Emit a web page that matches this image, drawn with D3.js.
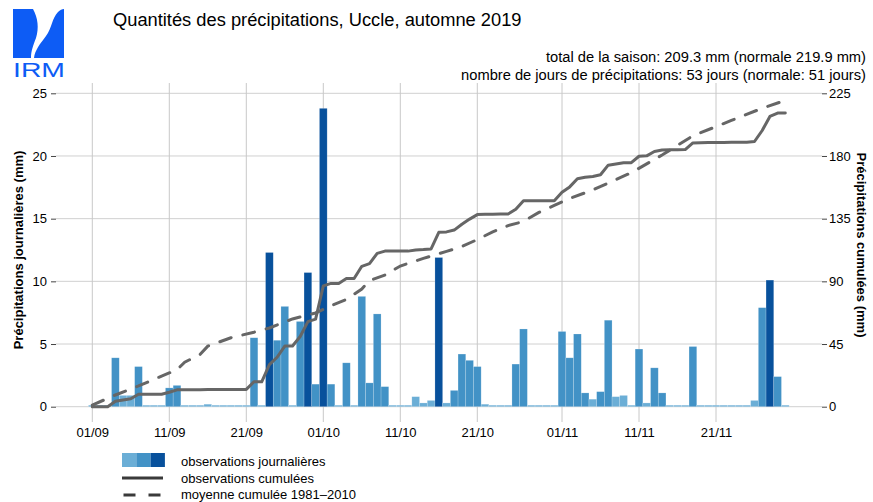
<!DOCTYPE html>
<html>
<head>
<meta charset="utf-8">
<script src="https://cdn.jsdelivr.net/npm/d3@7"></script>
<style>
  body { margin: 0; background: #fff; }
  text { font-family: "Liberation Sans", Arial, sans-serif; fill: #000; }
</style>
</head>
<body>
<div id="chart"></div>
<script>
// daily rain, Uccle, 1 Sep -> 30 Nov 2019 (mm)
var dailyRain = [
  0, 0, 0, 3.9, 0.9, 0.9, 3.2, 0, 0, 0,            // 01/09 - 10/09
  1.5, 1.7, 0.1, 0, 0, 0.2, 0, 0, 0, 0,            // 11/09 - 20/09
  0, 5.5, 0, 12.3, 5.3, 8.0, 0.1, 6.8, 10.7, 1.8,  // 21/09 - 30/09
  23.8, 1.8, 0, 3.5, 0, 8.8, 1.9, 7.4, 1.6, 0,     // 01/10 - 10/10
  0, 0, 0.8, 0.3, 0.5, 11.9, 0.3, 1.3, 4.2, 3.7,   // 11/10 - 20/10
  3.2, 0.2, 0.1, 0.1, 0, 3.4, 6.2, 0, 0, 0, 0,     // 21/10 - 31/10
  6.0, 3.9, 5.8, 1.1, 0.6, 1.2, 6.9, 0.8, 0.9, 0.1, // 01/11 - 10/11
  4.6, 0.3, 3.1, 1.1, 0.1, 0.1, 0.1, 4.8, 0.1, 0.1, // 11/11 - 20/11
  0.1, 0, 0.1, 0, 0.1, 0.5, 7.9, 10.1, 2.4, 0.1     // 21/11 - 30/11
];

// normal cumulative 1981-2010, read at some days (day 0 = 01/09)
var normalDays = [0, 3, 6, 9, 11, 12, 14, 15, 16, 18, 21, 23, 26, 29, 31, 33, 35, 36, 38, 40, 43, 46, 48, 50, 52, 54, 56, 58, 60, 62, 65, 70, 74, 78, 83, 87, 90];
var normalCum = [1.2, 8.4, 14.9, 22, 26.5, 32, 37.5, 43.5, 45.5, 49.5, 53.5, 56.5, 63, 67.3, 72.5, 77, 84.5, 90.5, 94.5, 101, 106.5, 111.5, 115, 120, 125.5, 130, 133, 139.5, 144.5, 149.5, 155.6, 168, 180.7, 194.5, 205.5, 214.3, 219.9];

var tickDates = ["2019-09-01", "2019-09-11", "2019-09-21", "2019-10-01", "2019-10-11", "2019-10-21", "2019-11-01", "2019-11-11", "2019-11-21"];
var tickLabels = ["01/09", "11/09", "21/09", "01/10", "11/10", "21/10", "01/11", "11/11", "21/11"];
var leftTicks = [0, 5, 10, 15, 20, 25];
var rightTicks = [0, 45, 90, 135, 180, 225];
var legendLabels = ["observations journalières", "observations cumulées", "moyenne cumulée 1981\u20132010"];
var barColors = ["#6baed6", "#4292c6", "#08519c"];

var width = 873;
var height = 502;
var gridLeft = 56, gridRight = 822, gridTop = 83, gridBottom = 417;

window.onload = function() {
  var svg = d3.select("#chart")
    .append("svg")
    .attr("width", width)
    .attr("height", height);

  var parse = d3.utcParse("%Y-%m-%d");
  var start = parse("2019-09-01");
  var dates = dailyRain.map(function(d, i) { return d3.utcDay.offset(start, i); });

  var x = d3.scaleUtc()
    .domain([start, dates[dates.length - 1]])
    .range([92.3, 785.3]);
  var yL = d3.scaleLinear().domain([0, 25]).range([406.7, 93.3]);
  var yR = d3.scaleLinear().domain([0, 225]).range([406.7, 93.3]);

  // grid
  svg.append("g").selectAll("line")
    .data(leftTicks)
    .enter().append("line")
    .attr("x1", gridLeft).attr("x2", gridRight)
    .attr("y1", function(d) { return yL(d); })
    .attr("y2", function(d) { return yL(d); })
    .attr("stroke", "#d0d0d0").attr("stroke-width", 1);

  svg.append("g").selectAll("line")
    .data(tickDates)
    .enter().append("line")
    .attr("x1", function(d) { return x(parse(d)); })
    .attr("x2", function(d) { return x(parse(d)); })
    .attr("y1", gridTop).attr("y2", gridBottom + 5)
    .attr("stroke", "#c8c8c8").attr("stroke-width", 1);

  // bars
  var bw = x(dates[1]) - x(dates[0]);
  svg.append("g").selectAll("rect")
    .data(dailyRain)
    .enter().append("rect")
    .attr("x", function(d, i) { return x(dates[i]) - bw / 2; })
    .attr("width", bw)
    .attr("y", function(d) { return Math.min(yL(d), yL(0) - 1.5); })
    .attr("height", function(d) { return Math.max(yL(0) - yL(d), 1.5); })
    .attr("fill", function(d) {
      return d >= 10 ? barColors[2] : (d >= 1 ? barColors[1] : barColors[0]);
    })
    .attr("stroke", "#ffffff").attr("stroke-opacity", 0.3).attr("stroke-width", 0.6);

  // cumulative lines
  var cum = [];
  dailyRain.reduce(function(acc, d) { acc += d; cum.push(acc); return acc; }, 0);
  cum[0] = 0;

  var line = d3.line()
    .x(function(d) { return x(d[0]); })
    .y(function(d) { return yR(d[1]); });

  svg.append("path")
    .datum(normalDays.map(function(d, i) { return [d3.utcDay.offset(start, d), normalCum[i]]; }))
    .attr("d", line)
    .attr("fill", "none")
    .attr("stroke", "#666")
    .attr("stroke-width", 3)
    .attr("stroke-dasharray", "12,12")
    .attr("stroke-linecap", "round");

  svg.append("path")
    .datum(cum.map(function(c, i) { return [dates[i], c]; }))
    .attr("d", line)
    .attr("fill", "none")
    .attr("stroke", "#666")
    .attr("stroke-width", 3)
    .attr("stroke-linejoin", "round")
    .attr("stroke-linecap", "round");

  // axes
  var axL = svg.append("g")
    .attr("transform", "translate(" + gridLeft + ",0)")
    .call(d3.axisLeft(yL).tickValues(leftTicks).tickSize(5).tickPadding(4));
  var axR = svg.append("g")
    .attr("transform", "translate(" + gridRight + ",0)")
    .call(d3.axisRight(yR).tickValues(rightTicks).tickSize(5).tickPadding(2));
  var axB = svg.append("g")
    .attr("transform", "translate(0," + gridBottom + ")")
    .call(d3.axisBottom(x).tickValues(tickDates.map(parse)).tickSize(0).tickPadding(11)
      .tickFormat(function(d, i) { return tickLabels[i]; }));

  [axL, axR, axB].forEach(function(a) {
    a.select(".domain").remove();
    a.selectAll(".tick line").attr("stroke", "#444");
    a.selectAll("text").attr("font-size", 13).attr("fill", "#000")
      .style("font-family", "'Liberation Sans', Arial, sans-serif");
  });

  // axis titles
  svg.append("text")
    .attr("transform", "translate(18,250) rotate(-90)")
    .attr("text-anchor", "middle")
    .attr("dominant-baseline", "central")
    .attr("font-size", 13)
    .attr("font-weight", "bold")
    .text("Précipitations journalières (mm)");

  svg.append("text")
    .attr("transform", "translate(861,245) rotate(90)")
    .attr("text-anchor", "middle")
    .attr("dominant-baseline", "central")
    .attr("font-size", 13)
    .attr("font-weight", "bold")
    .text("Précipitations cumulées (mm)");

  // titles
  svg.append("text")
    .attr("x", 113).attr("y", 26)
    .attr("font-size", 18.3)
    .text("Quantités des précipitations, Uccle, automne 2019");

  svg.append("text")
    .attr("x", 866).attr("y", 62)
    .attr("text-anchor", "end")
    .attr("font-size", 14.7)
    .text("total de la saison: 209.3 mm (normale 219.9 mm)");

  svg.append("text")
    .attr("x", 866).attr("y", 80)
    .attr("text-anchor", "end")
    .attr("font-size", 14.7)
    .text("nombre de jours de précipitations: 53 jours (normale: 51 jours)");

  // IRM logo
  var logo = svg.append("g").attr("fill", "#0d5cf5");
  logo.append("path")
    .attr("d", "M13,9 L33,9 C38,18 39,28 36,38 C33,46 31,51 31,58 L13,58 Z");
  logo.append("path")
    .attr("d", "M64,9 L64,58 L34,58 C35,50 40,44 46,36 C52,28 52,18 58,12 C60,10 62,9 64,9 Z");
  logo.append("text")
    .attr("x", 13).attr("y", 77)
    .attr("font-size", 21)
    .attr("textLength", 52)
    .attr("lengthAdjust", "spacingAndGlyphs")
    .style("fill", "#0d5cf5")
    .text("IRM");

  // legend
  var leg = svg.append("g");
  barColors.forEach(function(c, i) {
    leg.append("rect")
      .attr("x", 122 + i * 14.3).attr("y", 453)
      .attr("width", 14.3).attr("height", 14)
      .attr("fill", c);
  });
  leg.append("line")
    .attr("x1", 122).attr("x2", 163).attr("y1", 478).attr("y2", 478)
    .attr("stroke", "#3a3a3a").attr("stroke-width", 3);
  leg.append("line")
    .attr("x1", 123.5).attr("x2", 163).attr("y1", 495).attr("y2", 495)
    .attr("stroke", "#3a3a3a").attr("stroke-width", 3)
    .attr("stroke-dasharray", "12,13");
  leg.selectAll("text.lab")
    .data(legendLabels)
    .enter().append("text")
    .attr("class", "lab")
    .attr("x", 181)
    .attr("y", function(d, i) { return [461, 478, 494.5][i]; })
    .attr("dominant-baseline", "central")
    .attr("font-size", 13)
    .text(function(d) { return d; });
};
</script>
</body>
</html>
